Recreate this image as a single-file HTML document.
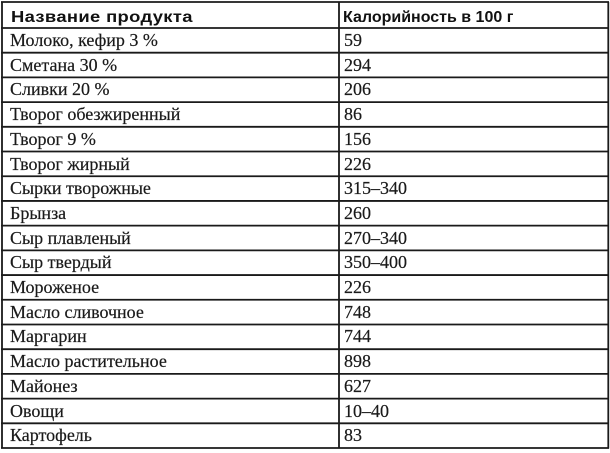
<!DOCTYPE html>
<html>
<head>
<meta charset="utf-8">
<style>
html,body{margin:0;padding:0;background:#fff;}
#c{position:relative;width:610px;height:453px;overflow:hidden;background:#fff;}
svg{position:absolute;left:0;top:0;}
.t{position:absolute;font-family:"Liberation Serif","Noto Serif CJK SC",serif;font-size:18px;line-height:24.7px;height:24.7px;color:#1a1a1a;white-space:nowrap;-webkit-text-stroke:0.2px #1a1a1a;}
.h{position:absolute;font-family:"Liberation Sans","Noto Sans CJK SC",sans-serif;font-weight:bold;font-size:16px;line-height:20px;color:#111;white-space:nowrap;top:7.8px;transform-origin:0 50%;}
</style>
</head>
<body>
<div id="c">
<svg width="610" height="453" viewBox="0 0 610 453">
<g stroke="#1a1a1a" stroke-width="1.8" fill="none">
<line x1="2" y1="2" x2="2" y2="448.5"/>
<line x1="339" y1="2" x2="339" y2="448.5"/>
<line x1="608.3" y1="2" x2="608.3" y2="448.5"/>
<line x1="1" y1="2" x2="609" y2="2"/>
<line x1="1" y1="28" x2="609" y2="28"/>
<line x1="1" y1="52.71" x2="609" y2="52.71"/>
<line x1="1" y1="77.41" x2="609" y2="77.41"/>
<line x1="1" y1="102.12" x2="609" y2="102.12"/>
<line x1="1" y1="126.82" x2="609" y2="126.82"/>
<line x1="1" y1="151.53" x2="609" y2="151.53"/>
<line x1="1" y1="176.24" x2="609" y2="176.24"/>
<line x1="1" y1="200.94" x2="609" y2="200.94"/>
<line x1="1" y1="225.65" x2="609" y2="225.65"/>
<line x1="1" y1="250.35" x2="609" y2="250.35"/>
<line x1="1" y1="275.06" x2="609" y2="275.06"/>
<line x1="1" y1="299.76" x2="609" y2="299.76"/>
<line x1="1" y1="324.47" x2="609" y2="324.47"/>
<line x1="1" y1="349.18" x2="609" y2="349.18"/>
<line x1="1" y1="373.88" x2="609" y2="373.88"/>
<line x1="1" y1="398.59" x2="609" y2="398.59"/>
<line x1="1" y1="423.29" x2="609" y2="423.29"/>
<line x1="1" y1="448" x2="609" y2="448"/>
</g>
</svg>

<div class="h" style="left:11px;letter-spacing:0.3px;transform:scaleX(1.15);">Название продукта</div>
<div class="h" style="left:343px;letter-spacing:0px;">Калорийность в 100 г</div>

<div class="t" style="left:10px;top:28px;">Молоко, кефир 3 %</div>
<div class="t" style="left:344px;top:28px;">59</div>

<div class="t" style="left:10px;top:52.71px;">Сметана 30 %</div>
<div class="t" style="left:344px;top:52.71px;">294</div>

<div class="t" style="left:10px;top:77.41px;">Сливки 20 %</div>
<div class="t" style="left:344px;top:77.41px;">206</div>

<div class="t" style="left:10px;top:102.12px;">Творог обезжиренный</div>
<div class="t" style="left:344px;top:102.12px;">86</div>

<div class="t" style="left:10px;top:126.82px;">Творог 9 %</div>
<div class="t" style="left:344px;top:126.82px;">156</div>

<div class="t" style="left:10px;top:151.53px;">Творог жирный</div>
<div class="t" style="left:344px;top:151.53px;">226</div>

<div class="t" style="left:10px;top:176.24px;">Сырки творожные</div>
<div class="t" style="left:344px;top:176.24px;">315–340</div>

<div class="t" style="left:10px;top:200.94px;">Брынза</div>
<div class="t" style="left:344px;top:200.94px;">260</div>

<div class="t" style="left:10px;top:225.65px;">Сыр плавленый</div>
<div class="t" style="left:344px;top:225.65px;">270–340</div>

<div class="t" style="left:10px;top:250.35px;">Сыр твердый</div>
<div class="t" style="left:344px;top:250.35px;">350–400</div>

<div class="t" style="left:10px;top:275.06px;">Мороженое</div>
<div class="t" style="left:344px;top:275.06px;">226</div>

<div class="t" style="left:10px;top:299.76px;">Масло сливочное</div>
<div class="t" style="left:344px;top:299.76px;">748</div>

<div class="t" style="left:10px;top:324.47px;">Маргарин</div>
<div class="t" style="left:344px;top:324.47px;">744</div>

<div class="t" style="left:10px;top:349.18px;">Масло растительное</div>
<div class="t" style="left:344px;top:349.18px;">898</div>

<div class="t" style="left:10px;top:373.88px;">Майонез</div>
<div class="t" style="left:344px;top:373.88px;">627</div>

<div class="t" style="left:10px;top:398.59px;">Овощи</div>
<div class="t" style="left:344px;top:398.59px;">10–40</div>

<div class="t" style="left:10px;top:423.29px;">Картофель</div>
<div class="t" style="left:344px;top:423.29px;">83</div>
</div>
</body>
</html>
